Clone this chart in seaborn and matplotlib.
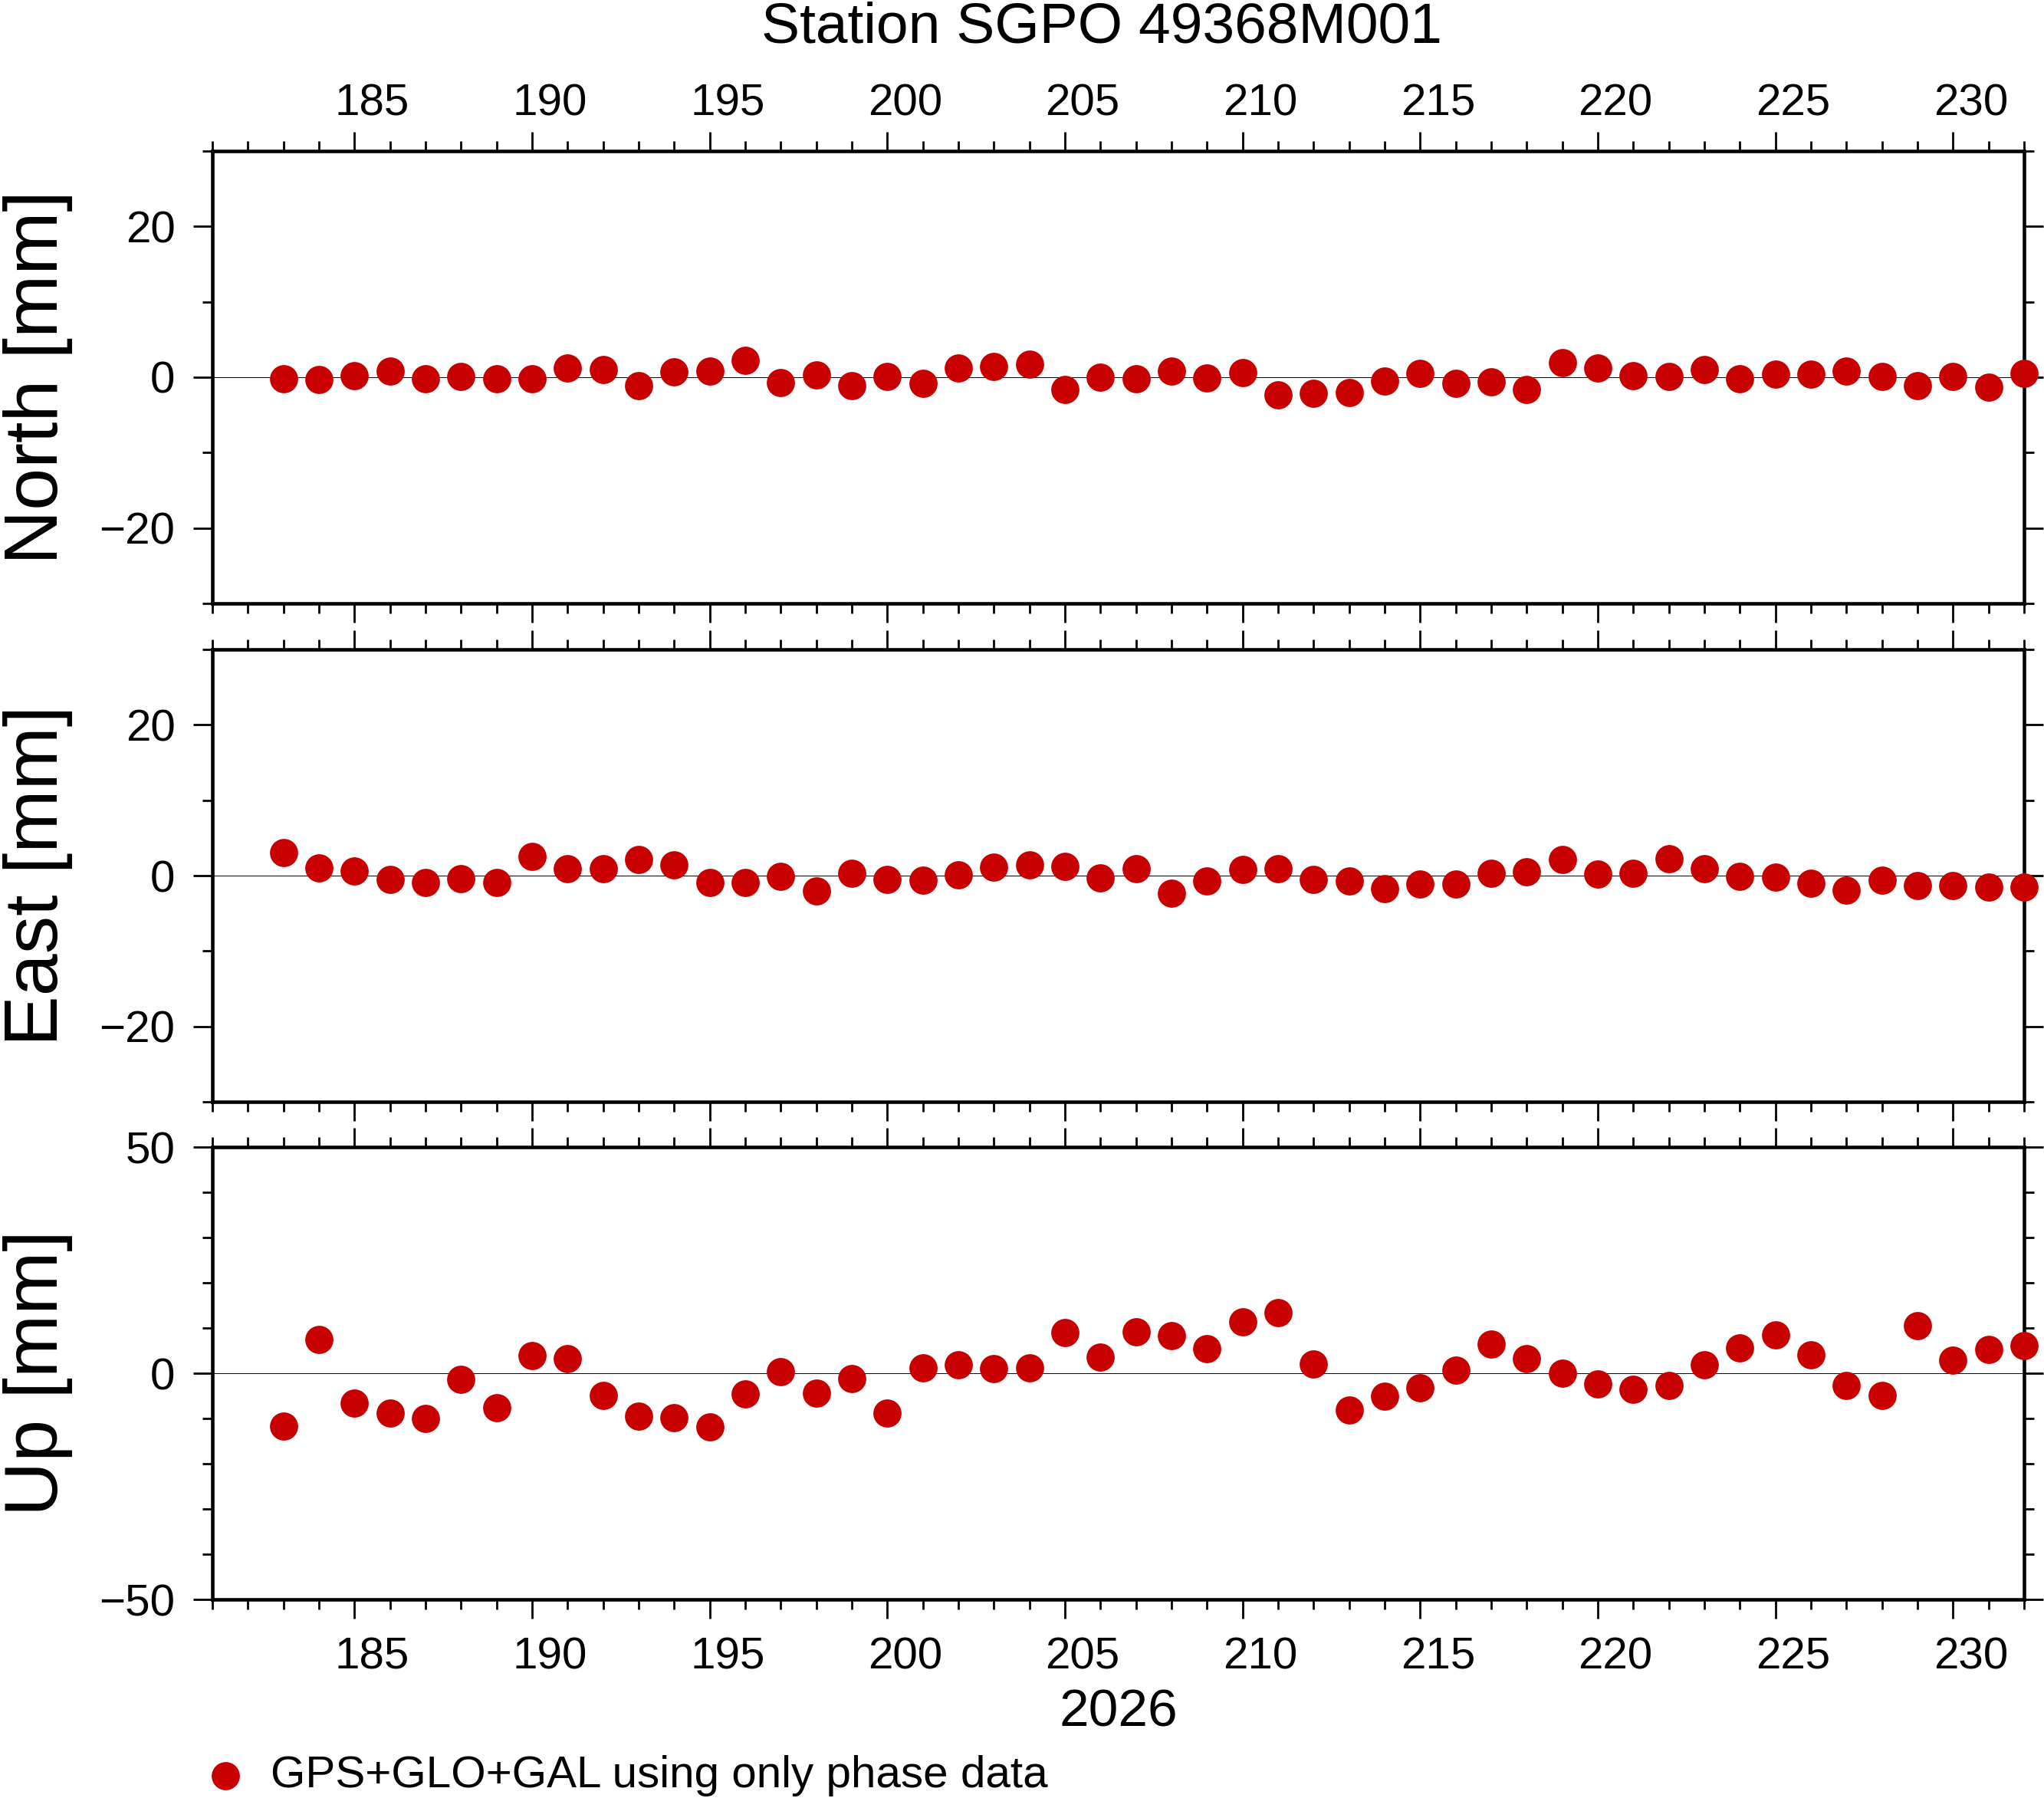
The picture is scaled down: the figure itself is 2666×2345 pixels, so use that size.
# GNSS station time series (North / East / Up) for SGPO, day of year 2026

import numpy as np
import pandas as pd
import seaborn as sns
import matplotlib.pyplot as plt
from matplotlib.ticker import MultipleLocator
from matplotlib.transforms import ScaledTranslation

# data (mm)
days = list(range(183, 233))
north = [-0.2, -0.3, 0.2, 0.8, -0.2, 0.1, -0.2, -0.2, 1.2, 1.0,
         -1.1, 0.7, 0.8, 2.2, -0.7, 0.3, -1.1, 0.1, -0.8, 1.2,
         1.4, 1.7, -1.6, 0.0, -0.2, 0.8, -0.1, 0.6, -2.3, -2.1,
         -2.0, -0.5, 0.5, -0.8, -0.6, -1.6, 1.9, 1.2, 0.2, 0.1,
         1.0, -0.2, 0.4, 0.4, 0.8, 0.1, -1.1, 0.1, -1.3, 0.5]
east = [3.1, 1.0, 0.6, -0.5, -0.9, -0.4, -0.9, 2.5, 0.9, 0.9,
        2.1, 1.4, -0.9, -0.9, -0.1, -2.0, 0.3, -0.5, -0.6, 0.1,
        1.1, 1.4, 1.2, -0.3, 0.9, -2.3, -0.7, 0.8, 0.9, -0.5,
        -0.7, -1.7, -1.1, -1.1, 0.3, 0.5, 2.1, 0.2, 0.3, 2.2,
        0.9, -0.1, -0.2, -1.0, -1.9, -0.6, -1.3, -1.3, -1.5, -1.5]
up = [-11.7, 7.5, -6.6, -8.8, -10.0, -1.4, -7.6, 3.9, 3.3, -4.9,
      -9.5, -9.8, -11.9, -4.6, 0.4, -4.4, -1.2, -8.8, 1.2, 1.9,
      1.1, 1.2, 9.0, 3.6, 9.2, 8.3, 5.5, 11.4, 13.4, 2.1,
      -8.1, -5.1, -3.2, 0.7, 6.5, 3.3, 0.0, -2.4, -3.5, -2.7,
      1.9, 5.6, 8.5, 4.1, -2.7, -4.9, 10.6, 2.9, 5.3, 6.1]

components = ['North', 'East', 'Up']
ylims = {'North': 30, 'East': 30, 'Up': 50}
ymajor = {'North': 20, 'East': 20, 'Up': 50}
xlim = (181, 232)
xlabels = list(range(185, 231, 5))
year = '2026'
title = 'Station SGPO 49368M001'
series_label = 'GPS+GLO+GAL using only phase data'
dot_color = '#C80000'

df = pd.DataFrame({'day': days, 'North': north, 'East': east, 'Up': up})

sns.set_theme(style='ticks', rc={'axes.edgecolor': 'black', 'xtick.color': 'black',
                                 'ytick.color': 'black', 'text.color': 'black',
                                 'axes.labelcolor': 'black'})
plt.rcParams['font.family'] = ['Liberation Sans', 'DejaVu Sans']

fig = plt.figure(figsize=(26.66, 23.45), dpi=100)

left, width, height = 0.1039, 0.8863, 0.2516
bottoms = [0.6644, 0.3872, 0.1104]

axes = []
for comp, b in zip(components, bottoms):
    ax = fig.add_axes([left, b, width, height])
    ax.axhline(0, color='black', lw=0.7, zorder=1)
    sns.scatterplot(data=df, x='day', y=comp, ax=ax, color=dot_color, s=700,
                    linewidth=0, clip_on=False, zorder=3,
                    label=series_label if comp == 'Up' else None, legend=False)
    lim = ylims[comp]
    ax.set_xlim(*xlim)
    ax.set_ylim(-lim, lim)
    ax.set_yticks([-ymajor[comp], 0, ymajor[comp]])
    ax.yaxis.set_minor_locator(MultipleLocator(10))
    ax.set_xticks(xlabels, [str(d) for d in xlabels])
    ax.xaxis.set_minor_locator(MultipleLocator(1))
    for sp in ax.spines.values():
        sp.set_visible(True)
        sp.set_linewidth(3.3)
    ax.tick_params(which='both', direction='out', width=2.0,
                   top=True, bottom=True, left=True, right=True)
    ax.tick_params(which='major', length=18)
    ax.tick_params(which='minor', length=9.4)
    ax.tick_params(axis='y', labelsize=42, pad=17, labelright=False)
    ax.tick_params(axis='x', labelsize=42,
                   labeltop=(comp == 'North'), labelbottom=(comp == 'Up'),
                   pad=7 if comp == 'North' else 17)
    ax.set_xlabel('')
    ax.set_ylabel(f'{comp} [mm]', fontsize=71)
    ax.yaxis.set_label_coords(-0.077, 0.5)
    axes.append(ax)

# day labels sit in the middle of each day interval
for ax in axes:
    bbox = ax.get_position()
    half_day = bbox.width * fig.get_figwidth() / (xlim[1] - xlim[0]) / 2
    shift = ScaledTranslation(half_day, 0, fig.dpi_scale_trans)
    for tick in ax.xaxis.get_major_ticks():
        tick.label1.set_transform(tick.label1.get_transform() + shift)
        tick.label2.set_transform(tick.label2.get_transform() + shift)

ax_up = axes[-1]
ax_up.set_xlabel(year, fontsize=50)
ax_up.xaxis.set_label_coords(0.5, -0.195)

fig.text(0.539, 0.9762, title, ha='center', va='baseline', fontsize=54)

fig.legend(loc='center left', bbox_to_anchor=(0.0994, 0.0124), frameon=False,
           fontsize=42, handlelength=1.0, handletextpad=0.5, borderpad=0,
           borderaxespad=0, scatterpoints=1)

fig.savefig('out.png', dpi=100)
